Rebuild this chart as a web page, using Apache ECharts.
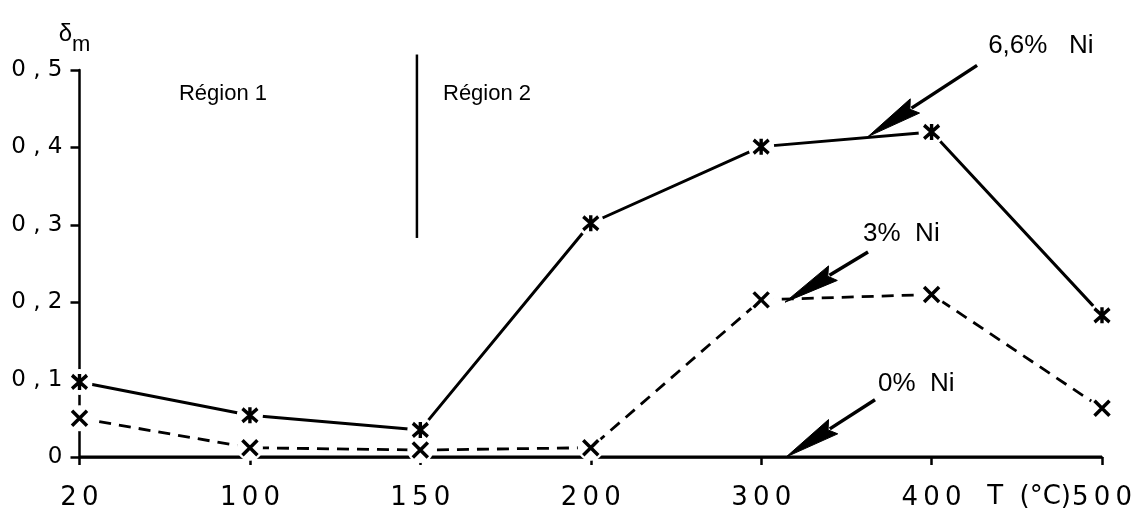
<!DOCTYPE html>
<html>
<head>
<meta charset="utf-8">
<script src="https://cdn.jsdelivr.net/npm/echarts@6/dist/echarts.min.js"></script>
<style>
  html, body { margin: 0; padding: 0; background: #fff; }
  #chart { width: 1134px; height: 513px; }
</style>
</head>
<body>
<div id="chart"></div>
<script>
// Temperatures (°C) on the horizontal axis
const temperatures = ['20', '100', '150', '200', '300', '400', '500'];

// δm for each nickel content
const ni66 = [0.097, 0.054, 0.035, 0.302, 0.401, 0.420, 0.183];
const ni3  = [0.050, 0.012, 0.009, 0.012, 0.203, 0.210, 0.063];
const ni0  = [0, 0, 0, 0, 0, 0, 0];

// Vertical axis ticks
const yTicks = [0, 0.1, 0.2, 0.3, 0.4, 0.5];

// Annotation anchors, in (category index, δm) units
const regionBoundary = [[1.98, 0.283], [1.98, 0.52]];
const noteTexts = ['Région 1', 'Région 2', '6,6%   Ni', '3%  Ni', '0%  Ni', 'T  (°C)'];
const noteAnchors = [[0.842, 0.469], [2.133, 0.469], [5.332, 0.531], [4.598, 0.288], [4.686, 0.094], [5.326, -0.052]];
// arrows: [tail x, tail y, tip x, tip y]
const arrows = [
  [5.267, 0.506, 4.627, 0.414],
  [4.627, 0.265, 4.140, 0.200],
  [4.668, 0.074, 4.146, 0.000]
];

const SANS = '"Liberation Sans", Arial, Helvetica, sans-serif';
const WIDE = '"DejaVu Sans", Verdana, sans-serif';
const noteStyles = [
  { font: SANS, size: 22, align: 'center' },
  { font: SANS, size: 22, align: 'left' },
  { font: SANS, size: 26, align: 'left' },
  { font: SANS, size: 26, align: 'left' },
  { font: SANS, size: 26, align: 'left' },
  { font: WIDE, size: 26, align: 'left' }
];

const crossPath = 'path://M0,0L10,10M10,0L0,10';
const starPath = 'path://M0,0L10,10M10,0L0,10M5,-1L5,11';

// line only, white halo under each marker, then the marker itself
function curve(values, dash, z) {
  return {
    type: 'line', data: values, symbol: 'none', z: z,
    lineStyle: { color: '#000', width: dash ? 2.8 : 3, type: dash ? [12, 8] : 'solid' }
  };
}
function halo(values) {
  return {
    type: 'scatter', data: values, symbol: 'circle', symbolSize: 26, z: 6,
    itemStyle: { color: '#fff', opacity: 1 }, silent: true
  };
}
function markers(values, path, size) {
  return {
    type: 'scatter', data: values, symbol: path, symbolSize: size, z: 7,
    itemStyle: { color: '#000', borderColor: '#000', borderWidth: 3.5, opacity: 1 }
  };
}

const chart = echarts.init(document.getElementById('chart'), null, { renderer: 'canvas' });

chart.setOption({
  animation: false,
  backgroundColor: '#fff',
  grid: { left: 79.5, right: 32, top: 70, bottom: 56, containLabel: false, outerBoundsMode: 'none' },
  xAxis: [
    {
      type: 'category',
      data: temperatures,
      boundaryGap: false,
      axisLine: { lineStyle: { color: '#000', width: 2.5 } },
      axisTick: { show: true, alignWithLabel: true, length: 8, lineStyle: { color: '#000', width: 2.5 } },
      axisLabel: {
        color: '#000', fontFamily: WIDE, fontSize: 26, margin: 28,
        formatter: v => v.split('').join('\u2009')
      },
      splitLine: { show: false }
    },
    { type: 'value', min: 0, max: 6, show: false }
  ],
  yAxis: {
    type: 'value',
    min: 0, max: 0.5, interval: 0.1,
    axisLine: { show: true, lineStyle: { color: '#000', width: 2.5 } },
    axisTick: { show: true, length: 9, lineStyle: { color: '#000', width: 2.5 } },
    axisLabel: {
      color: '#000', fontFamily: WIDE, fontSize: 23, margin: 17,
      formatter: v => {
        const t = yTicks.find(k => Math.abs(k - v) < 1e-9);
        if (t === 0) return '0';
        return t.toFixed(1).replace('.', ',').split('').join(' ');
      }
    },
    splitLine: { show: false },
    name: '{d|δ}{m|m}',
    nameLocation: 'end',
    nameGap: 13,
    nameTextStyle: {
      align: 'center',
      padding: [0, 10, 0, 0],
      rich: {
        d: { fontFamily: SANS, fontSize: 24, color: '#000', padding: [0, 0, 11, 0] },
        m: { fontFamily: SANS, fontSize: 22, color: '#000', padding: [11, 0, 0, 0] }
      }
    }
  },
  series: [
    curve(ni0, false, 3),
    curve(ni3, true, 4),
    curve(ni66, false, 5),
    halo(ni3),
    halo(ni66),
    markers(ni3, crossPath, 15),
    markers(ni66, starPath, [15, 16]),
    {
      // boundary between the two regions
      type: 'line', xAxisIndex: 1, data: regionBoundary,
      symbol: 'none', clip: false,
      lineStyle: { color: '#000', width: 2.5 },
      z: 2
    },
    {
      // text notes
      type: 'custom', xAxisIndex: 1, coordinateSystem: 'cartesian2d',
      data: noteAnchors, clip: false, z: 8,
      renderItem: (params, api) => {
        const p = api.coord([api.value(0), api.value(1)]);
        const s = noteStyles[params.dataIndex];
        return {
          type: 'text', x: p[0], y: p[1],
          style: {
            text: noteTexts[params.dataIndex],
            fill: '#000', fontFamily: s.font, fontSize: s.size,
            align: s.align, verticalAlign: 'middle'
          }
        };
      }
    },
    {
      // arrows pointing at each curve
      type: 'custom', xAxisIndex: 1, coordinateSystem: 'cartesian2d',
      data: arrows, clip: false, z: 9,
      renderItem: (params, api) => {
        const tail = api.coord([api.value(0), api.value(1)]);
        const tip = api.coord([api.value(2), api.value(3)]);
        const dx = tail[0] - tip[0], dy = tail[1] - tip[1];
        const len = Math.sqrt(dx * dx + dy * dy);
        const ux = dx / len, uy = dy / len;
        const headLen = 56, halfW = 8.5;
        const bx = tip[0] + ux * headLen, by = tip[1] + uy * headLen;
        const px = -uy, py = ux;
        return {
          type: 'group',
          children: [
            {
              type: 'line',
              shape: { x1: tail[0], y1: tail[1], x2: bx - ux * 4, y2: by - uy * 4 },
              style: { stroke: '#000', lineWidth: 3.5 }
            },
            {
              type: 'polygon',
              shape: {
                points: [
                  [tip[0], tip[1]],
                  [bx + px * halfW, by + py * halfW],
                  [bx - ux * 6, by - uy * 6],
                  [bx - px * halfW, by - py * halfW]
                ]
              },
              style: { fill: '#000', stroke: '#000', lineWidth: 1 }
            }
          ]
        };
      }
    }
  ]
});
</script>
</body>
</html>
